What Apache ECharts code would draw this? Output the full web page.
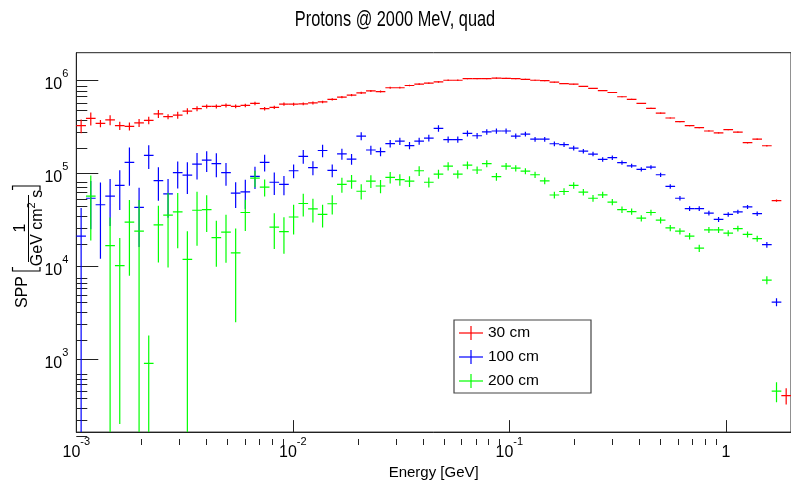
<!DOCTYPE html>
<html><head><meta charset="utf-8">
<script src="https://cdn.jsdelivr.net/npm/echarts@6/dist/echarts.min.js"></script>
<style>html,body{margin:0;padding:0;background:#fff}#c{width:791px;height:485px}</style>
</head><body><div id="c"></div>
<script>
// ---- histogram binning (74 log-spaced bins, 1e-3 .. 2 GeV) ----
const E_MIN = 1e-3, E_MAX = 2, N_BINS = 74;
const Y_MIN = 164, Y_MAX = 2.0e6;

// ---- series values (SPP per bin) ----
const red30 = [3.27e5,3.92e5,3.46e5,3.78e5,3.27e5,3.22e5,3.51e5,3.74e5,4.39e5,4.09e5,
  4.26e5,4.69e5,4.99e5,5.28e5,5.28e5,5.41e5,5.28e5,5.41e5,5.68e5,4.99e5,
  5.16e5,5.58e5,5.58e5,5.62e5,5.75e5,5.90e5,6.29e5,6.65e5,6.98e5,7.39e5,
  7.76e5,7.63e5,8.39e5,8.39e5,8.87e5,9.17e5,9.40e5,9.69e5,1.01e6,1.01e6,
  1.05e6,1.05e6,1.05e6,1.066e6,1.06e6,1.05e6,1.034e6,1.01e6,1.0e6,9.62e5,
  9.30e5,9.17e5,8.66e5,8.25e5,7.81e5,7.45e5,6.71e5,6.29e5,5.68e5,5.04e5,
  4.47e5,3.96e5,3.62e5,3.27e5,3.12e5,2.87e5,2.74e5,2.97e5,2.79e5,2.15e5,
  2.34e5,1.99e5,5.1e4,406];
const red30Err = [5.5e4,6.3e4,3.1e4,4.7e4,3.3e4,3.2e4,3.5e4,3.4e4,4.4e4,2.5e4,
  3.7e4,3.5e4,3.0e4,2.6e4,2.6e4,2.6e4,2.4e4,2.4e4,2.5e4,2.2e4,
  2.2e4,2.2e4,2.1e4,2.0e4,2.0e4,1.9e4,1.9e4,1.9e4,1.9e4,1.9e4,
  1.9e4,1.8e4,1.9e4,1.8e4,1.8e4,1.8e4,1.7e4,1.7e4,1.7e4,1.6e4,
  1.6e4,1.5e4,1.5e4,1.5e4,1.4e4,1.4e4,1.3e4,1.3e4,1.2e4,1.2e4,
  1.1e4,1.1e4,1.0e4,1.0e4,9e3,9e3,8e3,8e3,7e3,7e3,
  6e3,6e3,5.5e3,5e3,5e3,4.5e3,4.5e3,4.5e3,4.5e3,4e3,
  4e3,4e3,1.5e3,80];

const blue100 = [2.12e4,5.41e4,4.61e4,5.72e4,7.45e4,1.32e5,4.32e4,1.57e5,8.39e4,6.04e4,
  1.02e5,9.6e4,1.26e5,1.39e5,1.28e5,1.02e5,6.15e4,6.34e4,9.3e4,1.32e5,
  8.05e4,7.62e4,1.07e5,1.53e5,1.155e5,1.77e5,1.08e5,1.63e5,1.43e5,2.53e5,
  1.79e5,1.72e5,2.10e5,2.23e5,2.0e5,2.23e5,2.41e5,3.06e5,2.32e5,2.32e5,
  2.70e5,2.55e5,2.81e5,2.87e5,2.87e5,2.53e5,2.66e5,2.34e5,2.34e5,2.09e5,
  2.05e5,1.88e5,1.74e5,1.62e5,1.42e5,1.48e5,1.31e5,1.21e5,1.11e5,1.17e5,
  9.69e4,7.27e4,5.41e4,4.19e4,4.19e4,3.74e4,3.21e4,3.62e4,3.87e4,4.37e4,
  3.69e4,1.71e4,4.12e3,null];
const blue100Err = [2.14e4,2.9e4,3.4e4,3.0e4,3.4e4,5.8e4,2.7e4,4.5e4,3.3e4,2.7e4,
  3.3e4,3.6e4,4.0e4,3.5e4,3.7e4,2.8e4,1.9e4,2.2e4,2.5e4,2.7e4,
  2.2e4,1.8e4,1.8e4,2.6e4,2.0e4,2.7e4,1.7e4,2.2e4,1.9e4,2.5e4,
  2.0e4,1.9e4,2.0e4,2.0e4,1.8e4,1.9e4,2.0e4,2.4e4,1.8e4,1.8e4,
  2.0e4,1.8e4,1.9e4,1.9e4,1.9e4,1.6e4,1.6e4,1.4e4,1.4e4,1.2e4,
  1.2e4,1.1e4,1.0e4,9e3,8e3,8e3,7e3,6e3,6e3,6e3,
  5e3,4e3,3e3,2.5e3,2.5e3,2.2e3,2e3,2e3,2e3,2.2e3,
  2e3,1.2e3,4e2,null];

const green200 = [null,5.7e4,null,1.67e4,1.02e4,2.99e4,2.39e4,902,2.80e4,3.57e4,
  3.87e4,1.19e4,4.02e4,4.08e4,2.04e4,2.34e4,1.40e4,3.80e4,8.9e4,7.14e4,
  2.64e4,2.37e4,3.40e4,4.75e4,4.16e4,3.62e4,4.72e4,7.62e4,8.26e4,6.44e4,
  8.26e4,7.33e4,9.08e4,8.59e4,8.26e4,1.07e5,8.05e4,9.86e4,1.20e5,9.86e4,
  1.23e5,1.09e5,1.28e5,9.25e4,1.20e5,1.14e5,1.06e5,9.69e4,8.34e4,5.87e4,
  6.40e4,7.45e4,6.29e4,5.41e4,5.90e4,4.92e4,4.08e4,3.89e4,3.30e4,3.80e4,
  3.14e4,2.59e4,2.39e4,2.12e4,1.57e4,2.47e4,2.47e4,2.28e4,2.55e4,2.21e4,
  1.99e4,7.10e3,453,null];
const green200Err = [null,3.8e4,null,1.68e4,1.0e4,2.2e4,2.8e4,900,1.7e4,2.6e4,
  2.3e4,1.2e4,2.35e4,1.74e4,1.05e4,1.25e4,1.15e4,1.4e4,1.8e4,1.5e4,
  1.1e4,1.0e4,1.2e4,1.3e4,1.2e4,1.0e4,1.1e4,1.4e4,1.4e4,1.2e4,
  1.3e4,1.2e4,1.3e4,1.2e4,1.1e4,1.3e4,1.0e4,1.1e4,1.2e4,1.0e4,
  1.2e4,1.0e4,1.1e4,9e3,1.0e4,9e3,8e3,7.5e3,7e3,5e3,
  5.5e3,6e3,5e3,4.5e3,4.5e3,3.8e3,3.2e3,3e3,2.6e3,2.8e3,
  2.4e3,2e3,1.9e3,1.7e3,1.4e3,1.8e3,1.8e3,1.7e3,1.8e3,1.6e3,
  1.5e3,7e2,110,null];

// ---- axis tick values ----
const xMajorTicks = [1e-3, 1e-2, 1e-1, 1];
const xMinorTicks = [2e-3,3e-3,4e-3,5e-3,6e-3,7e-3,8e-3,9e-3,
  2e-2,3e-2,4e-2,5e-2,6e-2,7e-2,8e-2,9e-2,
  2e-1,3e-1,4e-1,5e-1,6e-1,7e-1,8e-1,9e-1];
const yMajorTicks = [1e3, 1e4, 1e5, 1e6];
const yMinorTicks = [200,300,400,500,600,700,800,900,
  2e3,3e3,4e3,5e3,6e3,7e3,8e3,9e3,
  2e4,3e4,4e4,5e4,6e4,7e4,8e4,9e4,
  2e5,3e5,4e5,5e5,6e5,7e5,8e5,9e5];

const seriesDefs = [
  {name: '30 cm', color: '#ff0000', vals: red30, errs: red30Err},
  {name: '100 cm', color: '#0000ff', vals: blue100, errs: blue100Err},
  {name: '200 cm', color: '#00ff00', vals: green200, errs: green200Err}
];

// bin edges of the histogram
const binEdges = [];
for (let k = 0; k <= N_BINS; k++) binEdges.push(E_MIN * Math.pow(E_MAX / E_MIN, k / N_BINS));

function buildRows(vals, errs) {
  const rows = [];
  vals.forEach((v, i) => {
    if (v == null) return;
    const lo = binEdges[i], hi = binEdges[i + 1];
    rows.push([Math.sqrt(lo * hi), v, lo, hi, errs[i]]);
  });
  return rows;
}

function makeRender(color) {
  return function (params, api) {
    const c = api.value(0), v = api.value(1), lo = api.value(2), hi = api.value(3), e = api.value(4);
    const cs = params.coordSys;
    const yBottom = cs.y + cs.height, yTopLim = cs.y;
    const pL = api.coord([lo, v]), pR = api.coord([hi, v]);
    let yT = api.coord([c, v + e])[1];
    const low = v - e;
    let yB = low > 0 ? api.coord([c, low])[1] : yBottom;
    yB = Math.min(yB, yBottom); yT = Math.max(yT, yTopLim);
    const xc = api.coord([c, v])[0];
    const yc = pL[1];
    return {
      type: 'group',
      children: [
        {type: 'line', shape: {x1: pL[0], y1: yc, x2: pR[0], y2: yc}, style: {stroke: color, lineWidth: 1.2}},
        {type: 'line', shape: {x1: xc, y1: yT, x2: xc, y2: yB}, style: {stroke: color, lineWidth: 1.2}}
      ]
    };
  };
}

const FONT = '"Liberation Sans", Arial, Helvetica, sans-serif';
const supRich = {
  b: {fontSize: 16, fontFamily: FONT, color: '#000', lineHeight: 24, verticalAlign: 'bottom'},
  s: {fontSize: 11, fontFamily: FONT, color: '#000', lineHeight: 12, verticalAlign: 'top'}
};
function powLabel(v) {
  const p = Math.round(Math.log10(v));
  if (p === 0) return '{b|1}';
  return '{b|10}{s|' + p + '}';
}

const GRID = {left: 76.3, right: -1.3, top: 52.7, bottom: 40};

const chart = echarts.init(document.getElementById('c'), null, {renderer: 'canvas'});

// legend & y-title graphics
const legendTop = 320, legendLeft = 454;
const graphics = [];
graphics.push({type: 'rect', shape: {x: legendLeft, y: legendTop, width: 137, height: 73},
  style: {fill: '#fff', stroke: '#444', lineWidth: 1.2}, z: 100});
seriesDefs.forEach((s, k) => {
  const cy = legendTop + 13 + k * 24;
  graphics.push({type: 'line', shape: {x1: 459, y1: cy, x2: 483, y2: cy}, style: {stroke: s.color, lineWidth: 1.2}, z: 101});
  graphics.push({type: 'line', shape: {x1: 471, y1: cy - 7, x2: 471, y2: cy + 7}, style: {stroke: s.color, lineWidth: 1.2}, z: 101});
  graphics.push({type: 'text', x: 488, y: cy, style: {text: s.name, fontSize: 15.5, fontFamily: FONT, fill: '#000', align: 'left', verticalAlign: 'middle'}, z: 101});
});
// y-axis title : SPP [ 1 / (GeV cm^2 s) ]
graphics.push({type: 'text', x: 23, y: 292, rotation: Math.PI / 2,
  style: {text: 'SPP', fontSize: 16, fontFamily: FONT, fill: '#000', align: 'center', verticalAlign: 'middle'}});
graphics.push({type: 'text', x: 21, y: 228, rotation: Math.PI / 2,
  style: {text: '1', fontSize: 16, fontFamily: FONT, fill: '#000', align: 'center', verticalAlign: 'middle'}});
graphics.push({type: 'text', x: 36, y: 228, rotation: Math.PI / 2,
  style: {text: '{a|GeV cm}{s|2}{a| s}', fontFamily: FONT, fill: '#000', align: 'center', verticalAlign: 'middle',
    rich: {a: {fontSize: 16, fontFamily: FONT, lineHeight: 20, verticalAlign: 'bottom'}, s: {fontSize: 11, fontFamily: FONT, lineHeight: 11, verticalAlign: 'top'}}}});
graphics.push({type: 'line', shape: {x1: 28.5, y1: 195, x2: 28.5, y2: 262}, style: {stroke: '#000', lineWidth: 1}});
// brackets [ ]
graphics.push({type: 'polyline', shape: {points: [[12.5, 267], [12.5, 271], [40, 271], [40, 267]]}, style: {stroke: '#000', lineWidth: 1.2, fill: null}});
graphics.push({type: 'polyline', shape: {points: [[12.5, 190], [12.5, 186], [40, 186], [40, 190]]}, style: {stroke: '#000', lineWidth: 1.2, fill: null}});
// title (condensed like the original)
graphics.push({type: 'text', x: 395, y: 20, scaleX: 0.76,
  style: {text: 'Protons @ 2000 MeV, quad', fontSize: 21.5, fontFamily: FONT, fill: '#000', align: 'center', verticalAlign: 'middle'}});

const option = {
  animation: false,
  backgroundColor: '#fff',
  grid: [
    Object.assign({show: true, borderColor: '#222', borderWidth: 1, backgroundColor: 'transparent'}, GRID),
    Object.assign({show: false}, GRID)
  ],
  xAxis: [
    {type: 'log', logBase: 10, min: E_MIN, max: E_MAX, gridIndex: 0,
      name: 'Energy [GeV]', nameLocation: 'middle', nameGap: 24,
      nameTextStyle: {fontSize: 15, fontFamily: FONT, color: '#000'},
      axisLine: {show: true, onZero: false, lineStyle: {color: '#222', width: 1}},
      axisTick: {show: true, inside: true, length: 12, customValues: xMajorTicks, lineStyle: {color: '#222'}},
      axisLabel: {show: true, customValues: xMajorTicks, margin: 4, formatter: powLabel, rich: supRich},
      splitLine: {show: false}, minorTick: {show: false}},
    {type: 'log', logBase: 10, min: E_MIN, max: E_MAX, gridIndex: 1,
      axisLine: {show: false},
      axisTick: {show: true, inside: true, length: 6, customValues: xMinorTicks, lineStyle: {color: '#222'}},
      axisLabel: {show: false}, splitLine: {show: false}}
  ],
  yAxis: [
    {type: 'log', logBase: 10, min: Y_MIN, max: Y_MAX, gridIndex: 0,
      axisLine: {show: true, onZero: false, lineStyle: {color: '#222', width: 1}},
      axisTick: {show: true, inside: true, length: 22, customValues: yMajorTicks, lineStyle: {color: '#222'}},
      axisLabel: {show: true, customValues: yMajorTicks, margin: 8, formatter: powLabel, rich: supRich},
      splitLine: {show: false}},
    {type: 'log', logBase: 10, min: Y_MIN, max: Y_MAX, gridIndex: 1,
      axisLine: {show: false},
      axisTick: {show: true, inside: true, length: 11, customValues: yMinorTicks, lineStyle: {color: '#222'}},
      axisLabel: {show: false}, splitLine: {show: false}}
  ],
  graphic: graphics,
  series: seriesDefs.map(s => ({
    type: 'custom', name: s.name, xAxisIndex: 0, yAxisIndex: 0, clip: true,
    renderItem: makeRender(s.color),
    encode: {x: 0, y: 1},
    data: buildRows(s.vals, s.errs)
  }))
};
chart.setOption(option);
</script></body></html>
